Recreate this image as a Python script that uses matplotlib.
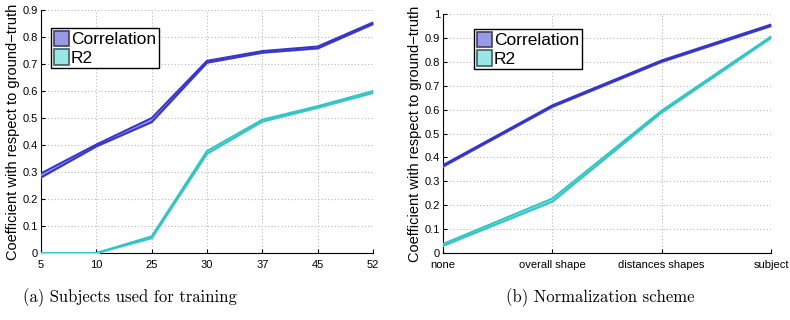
import matplotlib
matplotlib.use("Agg")
import matplotlib.pyplot as plt
from matplotlib.patches import Patch
import numpy as np

# (a) subjects used for training
subjects = ["5", "10", "25", "30", "37", "45", "52"]
corr_a_lo = [0.280, 0.395, 0.485, 0.705, 0.742, 0.758, 0.848]
corr_a_hi = [0.295, 0.402, 0.500, 0.712, 0.748, 0.765, 0.854]
r2_a_lo = [0.000, 0.000, 0.055, 0.368, 0.487, 0.538, 0.593]
r2_a_hi = [0.000, 0.000, 0.062, 0.378, 0.494, 0.544, 0.600]

# (b) normalization scheme
schemes = ["none", "overall shape", "distances shapes", "subject"]
corr_b_lo = [0.362, 0.612, 0.800, 0.950]
corr_b_hi = [0.368, 0.618, 0.806, 0.956]
r2_b_lo = [0.030, 0.215, 0.588, 0.900]
r2_b_hi = [0.038, 0.228, 0.596, 0.906]

corr_line, corr_fill = "#3535c8", "#9a99e6"
r2_line, r2_fill = "#35c4c4", "#99e6e6"

plt.rcParams["font.family"] = ["Liberation Sans", "DejaVu Sans"]

fig = plt.figure(figsize=(7.9, 3.2), dpi=100)
ax1 = fig.add_axes([41 / 790, 1 - 253 / 320, (373 - 41) / 790, (253 - 10) / 320])
ax2 = fig.add_axes([443 / 790, 1 - 253 / 320, (771 - 443) / 790, (253 - 14) / 320])


def band(ax, lo, hi, line, fill):
    x = np.arange(len(lo))
    ax.fill_between(x, lo, hi, color=fill, zorder=3)
    ax.plot(x, lo, color=line, lw=1.4, zorder=4)
    ax.plot(x, hi, color=line, lw=1.4, zorder=4)


def style(ax, labels, ymax):
    ticks = np.round(np.arange(0, ymax + 0.01, 0.1), 1)
    ax.set_xlim(0, len(labels) - 1)
    ax.set_ylim(0, ymax)
    ax.set_xticks(np.arange(len(labels)))
    ax.set_xticklabels(labels)
    ax.set_yticks(ticks)
    ax.set_yticklabels(["%g" % v for v in ticks])
    ax.tick_params(direction="in", labelsize=8, length=3)
    ax.tick_params(axis="y", pad=2)
    ax.tick_params(axis="x", pad=5)
    ax.spines["top"].set_visible(False)
    ax.spines["right"].set_visible(False)
    ax.grid(True, linestyle=(0, (1, 2)), color="#b8b8b8", lw=0.8)
    ax.set_axisbelow(True)
    ax.set_ylabel("Coefficient with respect to ground\u2212truth", fontsize=10.5, labelpad=2)
    handles = [Patch(facecolor=corr_fill, edgecolor="#404060", lw=1.2, label="Correlation"),
               Patch(facecolor=r2_fill, edgecolor="#406060", lw=1.2, label="R2")]
    ax.legend(handles=handles, loc="upper left", fontsize=12.5,
              fancybox=False, edgecolor="black", framealpha=1, handlelength=0.9,
              handleheight=1.0, handletextpad=0.1, borderpad=0.15, labelspacing=0.1,
              borderaxespad=0)


band(ax1, corr_a_lo, corr_a_hi, corr_line, corr_fill)
band(ax1, r2_a_lo, r2_a_hi, r2_line, r2_fill)
style(ax1, subjects, 0.9)
ax1.get_legend().set_bbox_to_anchor((10 / 332, 1 - 18 / 243), transform=ax1.transAxes)

band(ax2, corr_b_lo, corr_b_hi, corr_line, corr_fill)
band(ax2, r2_b_lo, r2_b_hi, r2_line, r2_fill)
style(ax2, schemes, 1.0)
ax2.get_legend().set_bbox_to_anchor((31 / 328, 1 - 15 / 239), transform=ax2.transAxes)

fig.text(130 / 790, 1 - 298 / 320, "(a) Subjects used for training", family="cmr10",
         fontsize=12, ha="center", va="center")
fig.text(600 / 790, 1 - 298 / 320, "(b) Normalization scheme", family="cmr10",
         fontsize=12, ha="center", va="center")

fig.savefig("out.png", dpi=100)
